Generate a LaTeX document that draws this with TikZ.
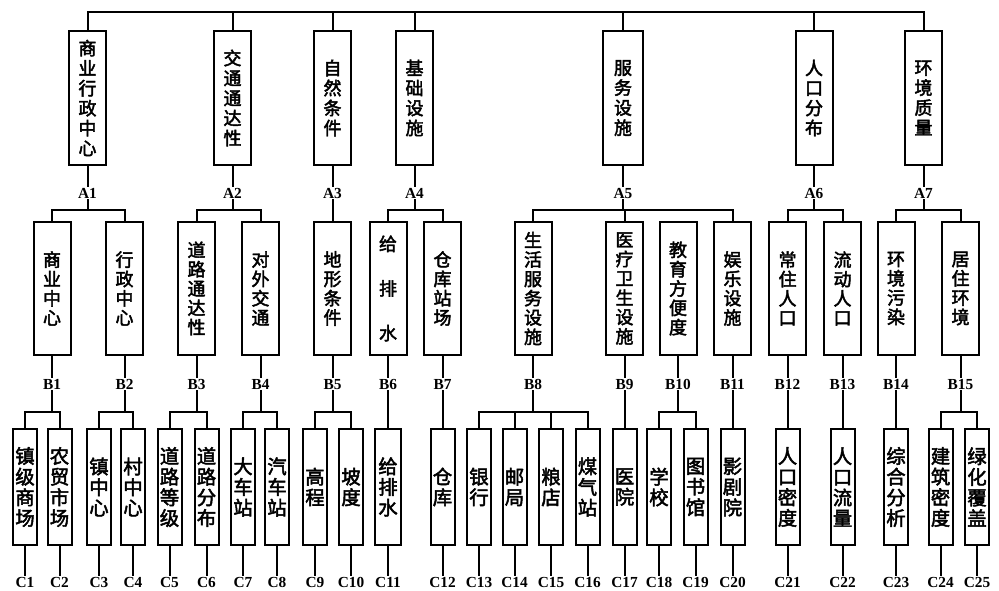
\documentclass[tikz,border=0pt]{standalone}
\usepackage{fontspec}
\setmainfont{Liberation Serif}
\newfontfamily\cjk{Noto Sans CJK SC}[FakeBold=2.5]
\tikzset{
  box/.style={draw, line width=1.5pt, inner sep=0pt, align=center},
  abox/.style={box, minimum width=27.75pt, minimum height=100.5pt, font=\cjk\fontsize{13.5}{15}\selectfont},
  bbox/.style={box, minimum width=27.75pt, minimum height=99.75pt, font=\cjk\fontsize{13.5}{14.5}\selectfont},
  cbox/.style={box, minimum width=18pt, minimum height=87pt, font=\cjk\fontsize{14.5}{15.5}\selectfont},
  lbl/.style={inner sep=1pt, text height=8pt, text depth=0pt, font=\bfseries\fontsize{11.5}{11.5}\selectfont},
  conn/.style={line width=1.5pt, line cap=rect}
}
\begin{document}
\begin{tikzpicture}[x=0.75pt,y=-0.75pt]
\useasboundingbox (0,0) rectangle (999,590);
\coordinate (ya) at (0,210);
\coordinate (yb) at (0,412);
% A level
\node[abox] (a1) at (87.5,98) {商\\业\\行\\政\\中\\心};
\node[abox] (a2) at (232.5,98) {交\\通\\通\\达\\性};
\node[abox] (a3) at (332.5,98) {自\\然\\条\\件};
\node[abox] (a4) at (414.5,98) {基\\础\\设\\施};
\node[abox, minimum width=30pt] (a5) at (623,98) {服\\务\\设\\施};
\node[abox] (a6) at (814,98) {人\\口\\分\\布};
\node[abox] (a7) at (923.5,98) {环\\境\\质\\量};
\foreach \i/\x in {1/87.5,2/232.5,3/332.5,4/414.5,5/623,6/814,7/923.5}
  \node[lbl] (la\i) at (\x,193) {A\i};
% B level
\node[bbox] (b1) at (52,288.5) {商\\业\\中\\心};
\node[bbox] (b2) at (124.5,288.5) {行\\政\\中\\心};
\node[bbox] (b3) at (196.5,288.5) {道\\路\\通\\达\\性};
\node[bbox] (b4) at (260.5,288.5) {对\\外\\交\\通};
\node[bbox] (b5) at (332.5,288.5) {地\\形\\条\\件};
\node[bbox] (b6) at (388,288.5) {给\\[19pt]排\\[19pt]水};
\node[bbox] (b7) at (442.5,288.5) {仓\\库\\站\\场};
\node[bbox] (b8) at (533,288.5) {生\\活\\服\\务\\设\\施};
\node[bbox] (b9) at (624.5,288.5) {医\\疗\\卫\\生\\设\\施};
\node[bbox] (b10) at (678,288.5) {教\\育\\方\\便\\度};
\node[bbox] (b11) at (732.5,288.5) {娱\\乐\\设\\施};
\node[bbox] (b12) at (787.5,288.5) {常\\住\\人\\口};
\node[bbox] (b13) at (842.5,288.5) {流\\动\\人\\口};
\node[bbox] (b14) at (896,288.5) {环\\境\\污\\染};
\node[bbox] (b15) at (960.5,288.5) {居\\住\\环\\境};
\foreach \i/\x in {1/52,2/124.5,3/196.5,4/260.5,5/332.5,6/388,7/442.5,8/533,9/624.5,10/678,11/732.5,12/787.5,13/842.5,14/896,15/960.5}
  \node[lbl] (lb\i) at (\x,384) {B\i};
% C level
\node[cbox] (c1) at (25,487) {镇\\级\\商\\场};
\node[cbox] (c2) at (59.5,487) {农\\贸\\市\\场};
\node[cbox] (c3) at (99,487) {镇\\中\\心};
\node[cbox] (c4) at (133,487) {村\\中\\心};
\node[cbox] (c5) at (169.5,487) {道\\路\\等\\级};
\node[cbox] (c6) at (206.5,487) {道\\路\\分\\布};
\node[cbox] (c7) at (243,487) {大\\车\\站};
\node[cbox] (c8) at (277,487) {汽\\车\\站};
\node[cbox] (c9) at (315,487) {高\\程};
\node[cbox] (c10) at (351,487) {坡\\度};
\node[cbox, minimum width=20pt] (c11) at (388,487) {给\\排\\水};
\node[cbox] (c12) at (442.5,487) {仓\\库};
\node[cbox] (c13) at (479,487) {银\\行};
\node[cbox] (c14) at (514.5,487) {邮\\局};
\node[cbox] (c15) at (551,487) {粮\\店};
\node[cbox] (c16) at (587.5,487) {煤\\气\\站};
\node[cbox] (c17) at (624.5,487) {医\\院};
\node[cbox] (c18) at (659,487) {学\\校};
\node[cbox] (c19) at (695.5,487) {图\\书\\馆};
\node[cbox] (c20) at (732.5,487) {影\\剧\\院};
\node[cbox] (c21) at (787.5,487) {人\\口\\密\\度};
\node[cbox] (c22) at (842.5,487) {人\\口\\流\\量};
\node[cbox] (c23) at (896,487) {综\\合\\分\\析};
\node[cbox] (c24) at (940.5,487) {建\\筑\\密\\度};
\node[cbox] (c25) at (977,487) {绿\\化\\覆\\盖};
\foreach \i/\x in {1/25,2/59.5,3/99,4/133,5/169.5,6/206.5,7/243,8/277,9/315,10/351,11/388,12/442.5,13/479,14/514.5,15/551,16/587.5,17/624.5,18/659,19/695.5,20/732.5,21/787.5,22/842.5,23/896,24/940.5,25/977}
  \node[lbl] (lc\i) at (\x,582) {C\i};
% top connectors
\draw[conn] (a1.north) -- ++(0,-18) -| (a7.north);
\foreach \i in {2,...,6} \draw[conn] (a\i.north) -- ++(0,-18);
\foreach \i in {1,...,7} \draw[conn] (a\i) -- (la\i);
% A -> B
\draw[conn] (b1.north) -- (b1.north |- ya) -| (b2.north);
\draw[conn] (la1.south) -- (la1.south |- ya);
\draw[conn] (b3.north) -- (b3.north |- ya) -| (b4.north);
\draw[conn] (la2.south) -- (la2.south |- ya);
\draw[conn] (la3) -- (b5);
\draw[conn] (b6.north) -- (b6.north |- ya) -| (b7.north);
\draw[conn] (la4.south) -- (la4.south |- ya);
\draw[conn] (b8.north) -- (b8.north |- ya) -| (b11.north);
\draw[conn] (b9.north) -- (b9.north |- ya);
\draw[conn] (la5.south) -- (la5.south |- ya);
\draw[conn] (b12.north) -- (b12.north |- ya) -| (b13.north);
\draw[conn] (la6.south) -- (la6.south |- ya);
\draw[conn] (b14.north) -- (b14.north |- ya) -| (b15.north);
\draw[conn] (la7.south) -- (la7.south |- ya);
\foreach \i in {1,...,15} \draw[conn] (b\i) -- (lb\i);
% B -> C
\draw[conn] (c1.north) -- (c1.north |- yb) -| (c2.north);
\draw[conn] (lb1.south) -- (lb1.south |- yb);
\draw[conn] (c3.north) -- (c3.north |- yb) -| (c4.north);
\draw[conn] (lb2.south) -- (lb2.south |- yb);
\draw[conn] (c5.north) -- (c5.north |- yb) -| (c6.north);
\draw[conn] (lb3.south) -- (lb3.south |- yb);
\draw[conn] (c7.north) -- (c7.north |- yb) -| (c8.north);
\draw[conn] (lb4.south) -- (lb4.south |- yb);
\draw[conn] (c9.north) -- (c9.north |- yb) -| (c10.north);
\draw[conn] (lb5.south) -- (lb5.south |- yb);
\draw[conn] (lb6) -- (c11);
\draw[conn] (lb7) -- (c12);
\draw[conn] (c13.north) -- (c13.north |- yb) -| (c16.north);
\draw[conn] (c14.north) -- (c14.north |- yb);
\draw[conn] (c15.north) -- (c15.north |- yb);
\draw[conn] (lb8.south) -- (lb8.south |- yb);
\draw[conn] (lb9) -- (c17);
\draw[conn] (c18.north) -- (c18.north |- yb) -| (c19.north);
\draw[conn] (lb10.south) -- (lb10.south |- yb);
\draw[conn] (lb11) -- (c20);
\draw[conn] (lb12) -- (c21);
\draw[conn] (lb13) -- (c22);
\draw[conn] (lb14) -- (c23);
\draw[conn] (c24.north) -- (c24.north |- yb) -| (c25.north);
\draw[conn] (lb15.south) -- (lb15.south |- yb);
\foreach \i in {1,...,25} \draw[conn] (c\i) -- (lc\i);
\end{tikzpicture}
\end{document}
